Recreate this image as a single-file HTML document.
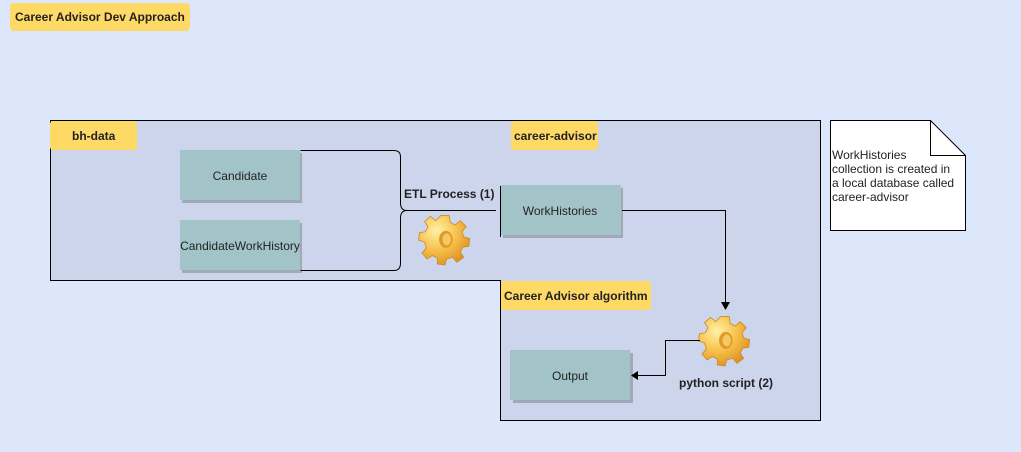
<!DOCTYPE html>
<html><head><meta charset="utf-8"><style>
body{margin:0;width:1021px;height:452px;overflow:hidden;background:#dde7fc;}
svg{display:block}
text{font-family:"Liberation Sans",sans-serif;font-size:12px;fill:#222}
.b{font-weight:bold}
</style></head><body>
<svg width="1021" height="452" viewBox="0 0 1021 452">
<defs>
<radialGradient id="g" cx="0.35" cy="0.3" r="0.8"><stop offset="0" stop-color="#fff1a8"/><stop offset="0.5" stop-color="#f7c14a"/><stop offset="1" stop-color="#d98a1c"/></radialGradient>
<g id="gear">
<path d="M-5,-24 L5,-24 L6,-16 L12,-13 L18,-18 L25,-11 L20,-5 L22,1 L29,3 L28,12 L21,13 L18,19 L22,25 L14,31 L9,25 L2,27 L0,34 L-9,33 L-9,26 L-15,23 L-21,27 L-27,20 L-22,14 L-24,7 L-31,5 L-30,-4 L-23,-5 L-20,-11 L-24,-17 L-17,-23 L-11,-18 Z" fill="url(#g)" stroke="#d08a25" stroke-width="1"/>
<ellipse cx="1" cy="4" rx="8" ry="10" fill="#e19a2a"/>
<ellipse cx="2" cy="4" rx="5" ry="7" fill="#f5c860"/>
</g>
</defs>
<rect x="0" y="0" width="1021" height="452" fill="#dde7fc"/>
<rect x="10" y="3" width="180" height="28" rx="4" fill="#ffd966"/>
<text x="15" y="21" class="b">Career Advisor Dev Approach</text>
<path d="M50.5,120.5 H820.5 V420.5 H500.5 V280.5 H50.5 Z" fill="#ccd5eb" stroke="#000"/>
<line x1="500.5" y1="186" x2="500.5" y2="237" stroke="#000"/>
<rect x="50" y="121" width="87" height="29" rx="3" fill="#ffd966"/>
<text x="72" y="140" class="b">bh-data</text>
<rect x="511" y="121" width="87" height="29" rx="3" fill="#ffd966"/>
<text x="514" y="140" class="b">career-advisor</text>
<rect x="501" y="281" width="150" height="29" rx="3" fill="#ffd966"/>
<text x="504" y="300" class="b">Career Advisor algorithm</text>
<g fill="#a1a9b8"><rect x="182" y="153" width="120" height="50"/><rect x="182" y="223" width="120" height="50"/><rect x="503" y="188" width="120" height="50"/><rect x="513" y="353" width="120" height="50"/></g>
<g fill="#a2c4c9"><rect x="180" y="150" width="120" height="50"/><rect x="180" y="220" width="120" height="50"/><rect x="501" y="185" width="120" height="50"/><rect x="510" y="350" width="120" height="50"/></g>
<text x="240" y="180" text-anchor="middle">Candidate</text>
<text x="240" y="250" text-anchor="middle">CandidateWorkHistory</text>
<text x="560" y="215" text-anchor="middle">WorkHistories</text>
<text x="570" y="380" text-anchor="middle">Output</text>
<path d="M300.5,150.5 H394 Q400.5,150.5 400.5,157 V203 Q400.5,210.5 407,210.5 H496 M407,210.5 Q400.5,210.5 400.5,218 V263 Q400.5,270.5 394,270.5 H300.5" fill="none" stroke="#000"/>
<text x="404" y="198" class="b">ETL  Process (1)</text>
<use href="#gear" x="445" y="236" transform="translate(445 236) scale(0.85) translate(-445 -236)"/>
<path d="M622,210.5 H725.5 V302" fill="none" stroke="#000"/>
<path d="M721,302 L725.5,310 L730,302 Z" fill="#000"/>
<use href="#gear" x="725" y="337" transform="translate(725 337) scale(0.85) translate(-725 -337)"/>
<path d="M700,340.5 H665.5 V375.5 H638" fill="none" stroke="#000"/>
<path d="M638,371 L631,375.5 L638,380 Z" fill="#000"/>
<text x="679" y="387" class="b">python script (2)</text>
<path d="M830.5,120.5 H930.5 L965.5,155.5 V230.5 H830.5 Z" fill="#fff" stroke="#000"/>
<path d="M930.5,120.5 V155.5 H965.5" fill="none" stroke="#000"/>
<text x="832" y="159">WorkHistories</text>
<text x="832" y="173">collection is created in</text>
<text x="832" y="187">a local database called</text>
<text x="832" y="201">career-advisor</text>
</svg>
</body></html>
